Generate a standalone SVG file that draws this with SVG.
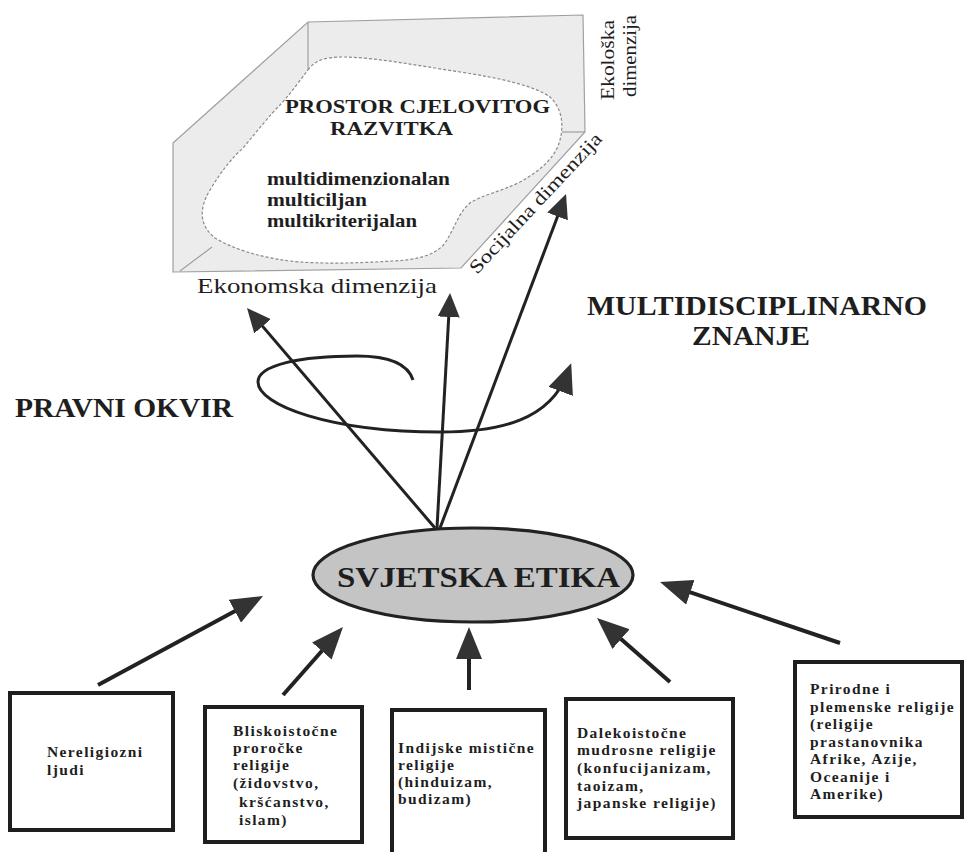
<svg xmlns="http://www.w3.org/2000/svg" width="964" height="852" viewBox="0 0 964 852">
<style>
.panel{fill:#ececec;stroke:#a0a0a0;stroke-width:1.2}
.edge{fill:none;stroke:#a0a0a0;stroke-width:1.2}
.blob{fill:#ffffff;stroke:#8a8a8a;stroke-width:1.2;stroke-dasharray:3 2}
.serif{font-family:"Liberation Serif","Times New Roman",serif;fill:#1e1e1e}
.b{font-weight:bold}
.box{fill:#ffffff;stroke:#1e1e1e;stroke-width:4}
.bt{font-family:"Liberation Serif","Times New Roman",serif;font-weight:bold;font-size:15.5px;letter-spacing:1.4px;fill:#1e1e1e}
.ln{fill:none;stroke:#222;stroke-width:3}
.lnb{fill:none;stroke:#222;stroke-width:4}
.ell{fill:#c4c4c4;stroke:#222;stroke-width:3.2}
</style>
<defs>
<marker id="ah" markerUnits="userSpaceOnUse" markerWidth="24" markerHeight="22" refX="16" refY="11" orient="auto">
<path d="M0,0 L24,11 L0,22 z" fill="#333"/>
</marker>
<marker id="ahb" markerUnits="userSpaceOnUse" markerWidth="32" markerHeight="26" refX="24" refY="13" orient="auto">
<path d="M0,0 L32,13 L0,26 z" fill="#333"/>
</marker>
<marker id="ahs" markerUnits="userSpaceOnUse" markerWidth="30" markerHeight="26" refX="20" refY="13" orient="auto">
<path d="M0,0 L30,13 L0,26 z" fill="#333"/>
</marker>
</defs>
<rect width="964" height="852" fill="#ffffff"/>

<g id="prostor">
<polygon class="panel" points="173,143 308,22 583,15 585,132 461,268 173,272"/>
<line class="edge" x1="308" y1="22" x2="308" y2="72"/>
<line class="edge" x1="180" y1="271" x2="212" y2="247"/>
<path class="blob" d="M308,70 C315,60 325,57 345,57 C380,58 420,66 460,72 C500,78 535,86 550,97 C562,108 564,125 560,140 C556,155 545,168 520,182 C500,192 482,195 470,203 C458,213 455,228 445,243 C435,256 415,260 393,261 C360,263 330,264 300,262 C265,259 235,250 215,238 C200,226 198,210 210,190 C222,170 232,158 243,148 C258,130 270,115 280,105 C292,92 300,80 308,70 z"/>
<line class="edge" x1="562" y1="132" x2="585" y2="132"/>
<text class="serif b" x="285" y="113" font-size="19" textLength="265" lengthAdjust="spacingAndGlyphs">PROSTOR CJELOVITOG</text>
<text class="serif b" x="330" y="135" font-size="19" textLength="123" lengthAdjust="spacingAndGlyphs">RAZVITKA</text>
<text class="serif b" x="267" y="185" font-size="19" textLength="183" lengthAdjust="spacingAndGlyphs">multidimenzionalan</text>
<text class="serif b" x="267" y="206" font-size="19" textLength="100" lengthAdjust="spacingAndGlyphs">multiciljan</text>
<text class="serif b" x="267" y="227" font-size="19" textLength="150" lengthAdjust="spacingAndGlyphs">multikriterijalan</text>
<text class="serif" x="197" y="293" font-size="21" textLength="240" lengthAdjust="spacingAndGlyphs">Ekonomska dimenzija</text>
<text class="serif" transform="translate(614,100) rotate(-90)" font-size="19" textLength="80" lengthAdjust="spacingAndGlyphs">Ekološka</text>
<text class="serif" transform="translate(636,97) rotate(-90)" font-size="19" textLength="82" lengthAdjust="spacingAndGlyphs">dimenzija</text>
<text class="serif" transform="translate(477,275) rotate(-47)" font-size="19" textLength="185" lengthAdjust="spacingAndGlyphs">Socijalna dimenzija</text>
</g>

<g id="labels">
<text class="serif b" x="587" y="315" font-size="28" textLength="340" lengthAdjust="spacingAndGlyphs">MULTIDISCIPLINARNO</text>
<text class="serif b" x="692" y="345" font-size="28" textLength="118" lengthAdjust="spacingAndGlyphs">ZNANJE</text>
<text class="serif b" x="15" y="417" font-size="28" textLength="218" lengthAdjust="spacingAndGlyphs">PRAVNI OKVIR</text>
</g>

<g id="connectors">
<path class="ln" d="M413,380 C408,364 390,356 357,356 C300,356 258,365 258,382 C258,405 330,432 440,432 C500,432 550,420 567.7,372.7" marker-end="url(#ahs)"/>
<line class="ln" x1="435" y1="528" x2="252.2" y2="314.1" marker-end="url(#ah)"/>
<line class="ln" x1="437" y1="528" x2="449.6" y2="301" marker-end="url(#ah)"/>
<line class="ln" x1="440" y1="528" x2="563.2" y2="201.5" marker-end="url(#ah)"/>
<line class="lnb" x1="98" y1="685" x2="256" y2="599.8" marker-end="url(#ahb)"/>
<line class="lnb" x1="283" y1="695" x2="337.7" y2="633" marker-end="url(#ahb)"/>
<line class="lnb" x1="469" y1="690" x2="469" y2="635" marker-end="url(#ahb)"/>
<line class="lnb" x1="670" y1="682" x2="603" y2="623.3" marker-end="url(#ahb)"/>
<line class="lnb" x1="840" y1="643" x2="667.6" y2="584.6" marker-end="url(#ahb)"/>
</g>

<g id="svjetska-etika">
<ellipse class="ell" cx="473" cy="575" rx="160" ry="47"/>
<text class="serif b" x="337" y="587" font-size="29" textLength="283" lengthAdjust="spacingAndGlyphs">SVJETSKA ETIKA</text>
</g>

<g id="nereligiozni">
<rect class="box" x="10" y="693" width="163" height="137"/>
<text class="bt" x="47" y="757">Nereligiozni</text>
<text class="bt" x="47" y="775">ljudi</text>
</g>

<g id="bliskoistocne">
<rect class="box" x="205" y="707" width="157" height="135"/>
<text class="bt" x="233" y="736">Bliskoistočne</text>
<text class="bt" x="233" y="753">proročke</text>
<text class="bt" x="233" y="770">religije</text>
<text class="bt" x="233" y="788">(židovstvo,</text>
<text class="bt" x="239" y="807">kršćanstvo,</text>
<text class="bt" x="239" y="825">islam)</text>
</g>

<g id="indijske">
<rect class="box" x="392" y="710" width="153" height="150"/>
<text class="bt" x="398" y="753">Indijske mistične</text>
<text class="bt" x="398" y="770">religije</text>
<text class="bt" x="398" y="787">(hinduizam,</text>
<text class="bt" x="398" y="804">budizam)</text>
</g>

<g id="dalekoistocne">
<rect class="box" x="566" y="699" width="167" height="139"/>
<text class="bt" x="577" y="738">Dalekoistočne</text>
<text class="bt" x="577" y="755">mudrosne religije</text>
<text class="bt" x="577" y="773">(konfucijanizam,</text>
<text class="bt" x="577" y="791">taoizam,</text>
<text class="bt" x="577" y="808">japanske religije)</text>
</g>

<g id="prirodne">
<rect class="box" x="795" y="662" width="167" height="155"/>
<text class="bt" x="810" y="694">Prirodne i</text>
<text class="bt" x="810" y="712">plemenske religije</text>
<text class="bt" x="810" y="729">(religije</text>
<text class="bt" x="810" y="747">prastanovnika</text>
<text class="bt" x="810" y="764">Afrike, Azije,</text>
<text class="bt" x="810" y="782">Oceanije i</text>
<text class="bt" x="810" y="799">Amerike)</text>
</g>
</svg>
